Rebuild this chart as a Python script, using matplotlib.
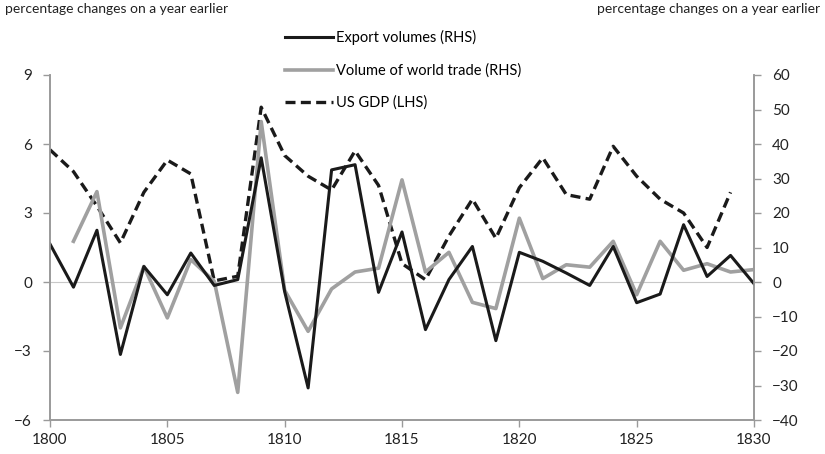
import numpy as np
import matplotlib
matplotlib.use("Agg")
import matplotlib.pyplot as plt

plt.rcParams['font.family'] = ['Lato', 'DejaVu Sans']

years = np.arange(1800, 1831)

# export volumes, RHS (% change on a year earlier)
export_vol = [11, -1.5, 15, -21, 4.5, -3.7, 8.4, -1, 0.7, 36,
              -2.8, -30.7, 32.5, 34, -3, 14.5, -13.8, 0.7, 10.3, -17,
              8.6, 6, 2.6, -1, 10.3, -6, -3.5, 16.6, 1.6, 7.7, -0.5]

# volume of world trade, RHS (no value for 1800)
world_trade = [np.nan, 11.8, 26.2, -13.3, 4.5, -10.4, 6.5, 0.2, -32, 46.5,
               -2.4, -14.3, -2, 2.9, 4, 29.6, 2.9, 8.6, -5.9, -7.7,
               18.5, 1, 5, 4.3, 11.8, -3.7, 11.8, 3.4, 5.3, 2.9, 3.6]

# US GDP, LHS (no value for 1830)
us_gdp = [5.75, 4.8, 3.3, 1.7, 3.9, 5.3, 4.7, 0.05, 0.25, 7.6,
          5.5, 4.6, 4.0, 5.7, 4.2, 0.8, 0.1, 2.0, 3.6, 1.9,
          4.1, 5.4, 3.8, 3.6, 5.9, 4.6, 3.6, 3.0, 1.5, 3.9, np.nan]

axis_grey = "#9a9a9a"

fig = plt.figure(figsize=(8.25, 4.54), dpi=100)
ax = fig.add_axes([50 / 825, 1 - 420 / 454, 704 / 825, 345 / 454])
ax2 = ax.twinx()

ax.axhline(0, color="#c8c8c8", lw=0.8, zorder=0)
gdp_line, = ax.plot(years, us_gdp, color="#1a1a1a", lw=2.4, ls=(0, (3, 1.6)),
                    label="US GDP (LHS)", zorder=3)
trade_line, = ax2.plot(years, world_trade, color="#a0a0a0", lw=2.6,
                       label="Volume of world trade (RHS)")
exp_line, = ax2.plot(years, export_vol, color="#1a1a1a", lw=2.2,
                     label="Export volumes (RHS)")

ax.set_xlim(1800, 1830)
ax.set_ylim(-6, 9)
ax.set_yticks([-6, -3, 0, 3, 6, 9])
ax.set_xticks(range(1800, 1831, 5))
ax2.set_ylim(-40, 60)
ax2.set_yticks(range(-40, 61, 10))

for a in (ax, ax2):
    a.spines["top"].set_visible(False)
    for s in ("left", "right", "bottom"):
        a.spines[s].set_color(axis_grey)
        a.spines[s].set_linewidth(1.2)
    a.tick_params(colors=axis_grey, labelcolor="#222222", labelsize=11,
                  length=5, width=1, direction="out")
ax.tick_params(axis="y", pad=8)
ax2.tick_params(axis="y", pad=8)
ax.tick_params(axis="x", pad=4)

fig.text(5 / 825, 1 - 9 / 454, "percentage changes on a year earlier",
         fontsize=10, color="#222222", va="center", ha="left")
fig.text(820 / 825, 1 - 9 / 454, "percentage changes on a year earlier",
         fontsize=10, color="#222222", va="center", ha="right")

fig.legend(handles=[exp_line, trade_line, gdp_line], loc="upper left",
           bbox_to_anchor=(285 / 825, 1 - 30 / 454), frameon=False,
           fontsize=10.5, handlelength=3.3, handletextpad=0.2,
           labelspacing=1.25, borderpad=0, borderaxespad=0)

fig.savefig("out.png", dpi=100)
